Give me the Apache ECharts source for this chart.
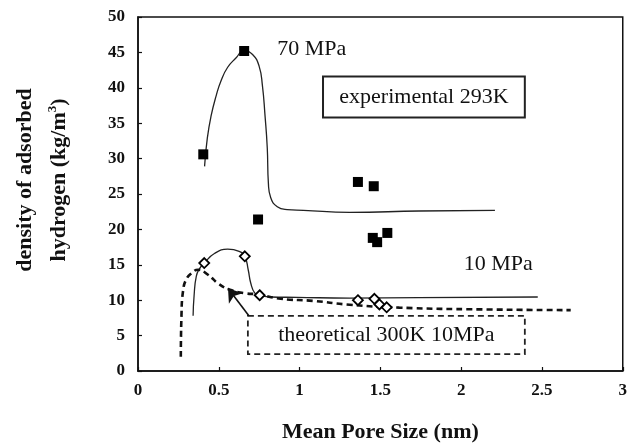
<!DOCTYPE html>
<html>
<head>
<meta charset="utf-8">
<script src="https://cdn.jsdelivr.net/npm/echarts@6/dist/echarts.min.js"></script>
<style>
html,body{margin:0;padding:0;background:#fff;}
#chart{width:630px;height:448px;}
</style>
</head>
<body>
<div id="chart"></div>
<script>
// Experimental 293K, 70 MPa (filled squares)
const exp70X = [0.404, 0.657, 0.743, 1.361, 1.459, 1.453, 1.480, 1.543];
const exp70Y = [30.6, 45.2, 21.4, 26.7, 26.1, 18.8, 18.2, 19.5];
// Fitted curve through 70 MPa data
const fit70X = [0.412, 0.429, 0.453, 0.484, 0.514, 0.555, 0.606, 0.657, 0.709, 0.749, 0.770, 0.786, 0.800, 0.807, 0.821, 0.862, 0.923, 1.024, 1.310, 1.739, 2.209];
const fit70Y = [28.9, 32.9, 36.1, 38.9, 41.0, 42.9, 44.2, 45.3, 44.7, 43.1, 40.3, 36.1, 31.5, 26.5, 24.5, 23.2, 22.8, 22.7, 22.4, 22.6, 22.7];
// Experimental 293K, 10 MPa (open diamonds)
const exp10X = [0.410, 0.661, 0.753, 1.361, 1.463, 1.494, 1.539];
const exp10Y = [15.25, 16.2, 10.7, 10.0, 10.2, 9.4, 9.0];
// Fitted curve through 10 MPa data
const fit10X = [0.341, 0.347, 0.361, 0.382, 0.410, 0.473, 0.555, 0.626, 0.661, 0.682, 0.698, 0.723, 0.753, 0.821, 0.984, 1.310, 1.739, 2.474];
const fit10Y = [7.8, 10.6, 13.4, 14.5, 15.25, 16.6, 17.2, 16.9, 16.2, 14.3, 12.4, 11.0, 10.7, 10.45, 10.4, 10.3, 10.35, 10.45];
// Theoretical 300K 10MPa
const theoX = [0.265, 0.269, 0.280, 0.300, 0.331, 0.372, 0.433, 0.494, 0.565, 0.657, 0.749, 0.882, 1.086, 1.290, 1.617, 2.127, 2.678];
const theoY = [2.0, 7.8, 11.5, 13.0, 13.8, 14.3, 13.6, 12.4, 11.5, 11.0, 10.8, 10.2, 9.9, 9.4, 8.95, 8.7, 8.6];

const xTickLabels = ['0', '0.5', '1', '1.5', '2', '2.5', '3'];
const yTickLabels = ['0', '5', '10', '15', '20', '25', '30', '35', '40', '45', '50'];
const labels = {
  p70: '70 MPa',
  p10: '10 MPa',
  exp: 'experimental 293K',
  theo: 'theoretical 300K 10MPa',
  xName: 'Mean Pore Size (nm)',
  yName1: 'density of adsorbed',
  yName2: 'hydrogen (kg/m'
};

const zip = (xs, ys) => xs.map((x, i) => [x, ys[i]]);
const ink = '#111';
const serif = '"Liberation Serif", "Times New Roman", serif';
const annoText = { fontFamily: serif, fontSize: 22, color: ink };

const chart = echarts.init(document.getElementById('chart'), null, { renderer: 'canvas' });
chart.setOption({
  animation: false,
  backgroundColor: '#fff',
  grid: { left: 136, right: 4, top: 17, bottom: 72, show: true, borderColor: ink, borderWidth: 1.5, containLabel: false },
  xAxis: {
    type: 'value', min: 0, max: 3, interval: 0.5,
    name: labels.xName, nameLocation: 'middle', nameGap: 50,
    nameTextStyle: { fontFamily: serif, fontWeight: 'bold', fontSize: 22, color: ink },
    axisLine: { show: true, lineStyle: { color: ink, width: 1.5 } },
    axisTick: { show: true, inside: true, length: 4, lineStyle: { color: ink, width: 1.2 } },
    axisLabel: { margin: 11, fontFamily: serif, fontWeight: 'bold', fontSize: 17, color: ink,
      formatter: (v) => xTickLabels[Math.round(v / 0.5)] },
    splitLine: { show: false }
  },
  yAxis: {
    type: 'value', min: 0, max: 50, interval: 5,
    name: '{a|' + labels.yName1 + '}\n{a|' + labels.yName2 + '}{s|3}{a|)}',
    nameLocation: 'middle', nameGap: 62, nameRotate: 90,
    nameTextStyle: { fontFamily: serif, fontWeight: 'bold', fontSize: 22, color: ink, lineHeight: 34,
      padding: [0, 0, 0, 28],
      rich: {
        a: { fontFamily: serif, fontWeight: 'bold', fontSize: 22, color: ink, lineHeight: 34 },
        s: { fontFamily: serif, fontWeight: 'bold', fontSize: 13, color: ink, verticalAlign: 'top', lineHeight: 34, padding: [4, 0, 0, 0] }
      }
    },
    axisLine: { show: true, lineStyle: { color: ink, width: 1.5 } },
    axisTick: { show: true, inside: true, length: 4, lineStyle: { color: ink, width: 1.2 } },
    axisLabel: { margin: 13, fontFamily: serif, fontWeight: 'bold', fontSize: 17, color: ink,
      formatter: (v) => yTickLabels[Math.round(v / 5)] },
    splitLine: { show: false }
  },
  series: [
    {
      name: 'fit70', type: 'line', data: zip(fit70X, fit70Y), smooth: 0.5,
      showSymbol: false, symbol: 'none', lineStyle: { color: '#222', width: 1.3 }, z: 2,
      markPoint: {
        symbol: 'circle', symbolSize: 0, silent: true,
        label: Object.assign({ show: true, position: 'inside' }, annoText),
        data: [{ coord: [1.075, 45.5], value: labels.p70, label: { formatter: labels.p70 } }]
      },
      markArea: {
        silent: true,
        itemStyle: { color: 'rgba(255,255,255,0)', borderColor: '#222', borderWidth: 2 },
        label: Object.assign({ show: true, position: 'inside' }, annoText),
        data: [[{ coord: [1.145, 41.6], name: labels.exp }, { coord: [2.394, 35.8] }]]
      }
    },
    {
      name: 'fit10', type: 'line', data: zip(fit10X, fit10Y), smooth: 0.5,
      showSymbol: false, symbol: 'none', lineStyle: { color: '#222', width: 1.3 }, z: 2,
      markPoint: {
        symbol: 'circle', symbolSize: 0, silent: true,
        label: Object.assign({ show: true, position: 'inside' }, annoText),
        data: [{ coord: [2.229, 15.1], value: labels.p10, label: { formatter: labels.p10 } }]
      }
    },
    {
      name: 'theo', type: 'line', data: zip(theoX, theoY), smooth: 0.5,
      showSymbol: false, symbol: 'none',
      lineStyle: { color: ink, width: 2.6, type: [6, 4] }, z: 3,
      markArea: {
        silent: true,
        itemStyle: { color: 'rgba(255,255,255,0)', borderColor: '#222', borderWidth: 1.8, borderType: [6, 4] },
        label: Object.assign({ show: true, position: 'inside' }, annoText),
        data: [[{ coord: [0.68, 7.8], name: labels.theo }, { coord: [2.394, 2.37] }]]
      },
      markLine: {
        silent: true, symbol: ['none', 'arrow'], symbolSize: 13,
        label: { show: false },
        lineStyle: { color: ink, width: 1.6, type: 'solid' },
        data: [[{ coord: [0.686, 7.8] }, { coord: [0.557, 11.7] }]]
      }
    },
    {
      name: 'exp70', type: 'scatter', data: zip(exp70X, exp70Y), symbol: 'rect', symbolSize: 10,
      itemStyle: { color: '#000', opacity: 1 }, z: 5
    },
    {
      name: 'exp10', type: 'scatter', data: zip(exp10X, exp10Y), symbol: 'diamond', symbolSize: 10,
      itemStyle: { color: '#fff', borderColor: '#000', borderWidth: 1.8, opacity: 1 }, z: 5
    }
  ]
});
</script>
</body>
</html>
